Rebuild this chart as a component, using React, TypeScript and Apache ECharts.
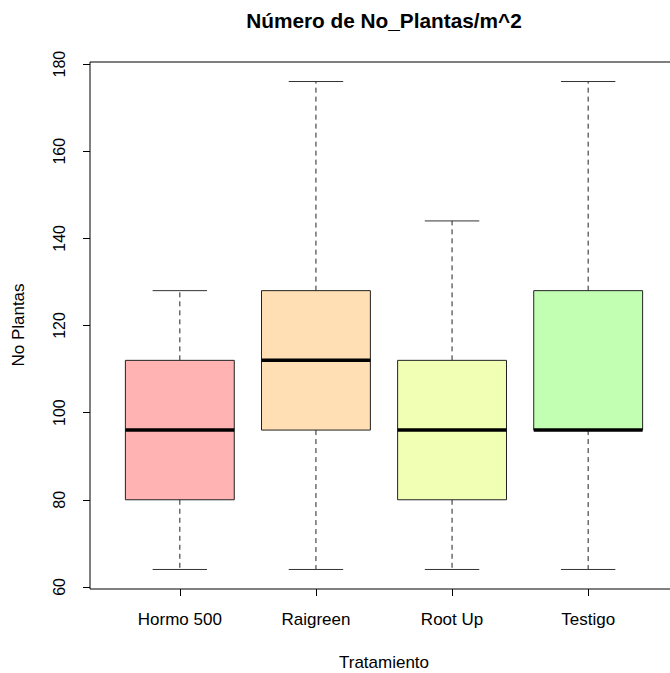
import React, { useEffect, useRef } from "react";
import * as echarts from "echarts";

const categories = ["Hormo 500", "Raigreen", "Root Up", "Testigo"];
const minimums = [64, 64, 64, 64];
const lowerQuartiles = [80, 96, 80, 96];
const medians = [96, 112, 96, 96];
const upperQuartiles = [112, 128, 112, 128];
const maximums = [128, 176, 144, 176];
const boxColors = ["#FFB3B3", "#FFDFB3", "#F0FFB3", "#C2FFB3"];
const yTicks = [60, 80, 100, 120, 140, 160, 180];
const xPositions = [1, 2, 3, 4];

const FONT = "'Liberation Sans', Arial, sans-serif";

export default function App() {
  const ref = useRef<HTMLDivElement>(null);

  useEffect(() => {
    if (!ref.current) return;
    const chart = echarts.init(ref.current, null, { renderer: "svg" });

    const data = categories.map((_, i) => [
      xPositions[i],
      minimums[i],
      lowerQuartiles[i],
      medians[i],
      upperQuartiles[i],
      maximums[i],
    ]);

    const renderItem = (params: any, api: any) => {
      const i = params.dataIndex;
      const x = api.value(0);
      const pMin = api.coord([x, api.value(1)]);
      const pQ1 = api.coord([x, api.value(2)]);
      const pMed = api.coord([x, api.value(3)]);
      const pQ3 = api.coord([x, api.value(4)]);
      const pMax = api.coord([x, api.value(5)]);
      const halfBox = api.size([0.8, 0])[0] / 2;
      const halfCap = api.size([0.4, 0])[0] / 2;
      const cx = pMed[0];
      const whisker = { stroke: "#222", lineWidth: 1, lineDash: [5, 4] };
      const cap = { stroke: "#333", lineWidth: 1 };
      return {
        type: "group",
        children: [
          { type: "line", shape: { x1: cx, y1: pQ3[1], x2: cx, y2: pMax[1] }, style: whisker },
          { type: "line", shape: { x1: cx, y1: pQ1[1], x2: cx, y2: pMin[1] }, style: whisker },
          { type: "line", shape: { x1: cx - halfCap, y1: pMax[1], x2: cx + halfCap, y2: pMax[1] }, style: cap },
          { type: "line", shape: { x1: cx - halfCap, y1: pMin[1], x2: cx + halfCap, y2: pMin[1] }, style: cap },
          {
            type: "rect",
            shape: { x: cx - halfBox, y: pQ3[1], width: halfBox * 2, height: pQ1[1] - pQ3[1] },
            style: { fill: boxColors[i], stroke: "#222", lineWidth: 1 },
          },
          {
            type: "line",
            shape: { x1: cx - halfBox, y1: pMed[1], x2: cx + halfBox, y2: pMed[1] },
            style: { stroke: "#000", lineWidth: 3.5 },
          },
        ],
      };
    };

    chart.setOption({
      animation: false,
      backgroundColor: "#fff",
      grid: {
        left: 90,
        top: 62,
        right: -8,
        bottom: 84,
        outerBoundsMode: "none",
        containLabel: false,
        show: true,
        borderColor: "#000",
        borderWidth: 1,
        backgroundColor: "transparent",
      },
      xAxis: {
        type: "value",
        min: 0.34,
        max: 4.66,
        axisLine: { show: false },
        splitLine: { show: false },
        axisTick: { show: true, length: 7, customValues: xPositions, lineStyle: { color: "#000" } },
        axisLabel: {
          customValues: xPositions,
          formatter: (v: number) => categories[Math.round(v) - 1] ?? "",
          margin: 22,
          fontSize: 17,
          fontFamily: FONT,
          color: "#000",
        },
      },
      yAxis: {
        type: "value",
        min: 59.52,
        max: 180.48,
        axisLine: { show: false },
        splitLine: { show: false },
        axisTick: { show: true, length: 7, customValues: yTicks, lineStyle: { color: "#000" } },
        axisLabel: {
          customValues: yTicks,
          rotate: 90,
          margin: 23,
          fontSize: 16,
          fontFamily: FONT,
          color: "#000",
        },
      },
      graphic: [
        {
          type: "text",
          x: 384,
          y: 20,
          style: {
            text: "Número de No_Plantas/m^2",
            fontSize: 20.8,
            fontWeight: "bold",
            fontFamily: FONT,
            fill: "#000",
            align: "center",
            verticalAlign: "middle",
          },
        },
        {
          type: "text",
          x: 384,
          y: 662,
          style: {
            text: "Tratamiento",
            fontSize: 17,
            fontFamily: FONT,
            fill: "#000",
            align: "center",
            verticalAlign: "middle",
          },
        },
        {
          type: "text",
          x: 18,
          y: 325,
          rotation: Math.PI / 2,
          style: {
            text: "No Plantas",
            fontSize: 17,
            fontFamily: FONT,
            fill: "#000",
            align: "center",
            verticalAlign: "middle",
          },
        },
      ],
      series: [
        {
          type: "custom",
          renderItem,
          data,
          encode: { x: 0, y: [1, 2, 3, 4, 5] },
          clip: false,
        },
      ],
    });

    return () => chart.dispose();
  }, []);

  return (
    <div
      ref={ref}
      style={{ position: "fixed", left: 0, top: 0, width: 670, height: 673 }}
    />
  );
}
